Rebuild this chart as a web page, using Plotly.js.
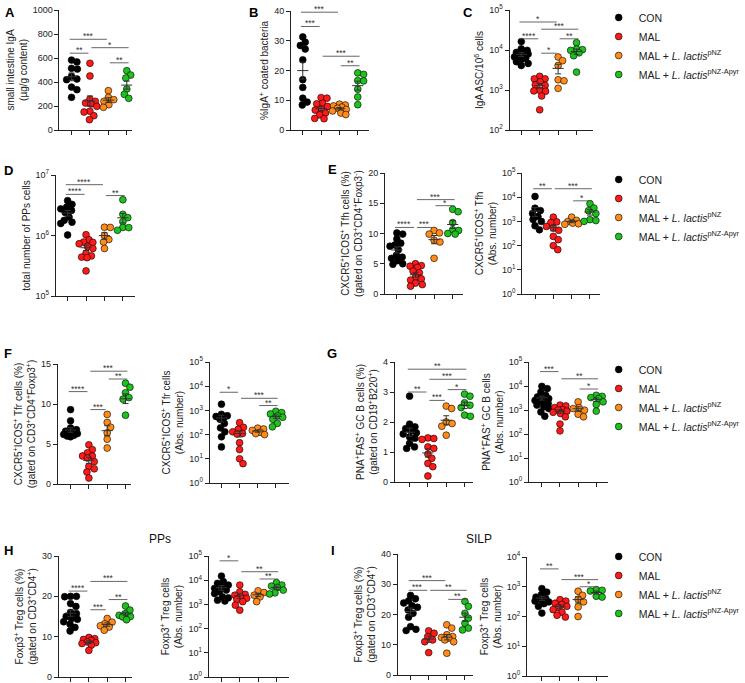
<!DOCTYPE html>
<html>
<head>
<meta charset="utf-8" />
<title>L. lactis pNZ-Apyr panels</title>
<script src="https://cdn.plot.ly/plotly-3.0.1.min.js"></script>
<style>
  html, body { margin: 0; padding: 0; background: #fff; }
  #plot { width: 745px; height: 683px; }
</style>
</head>
<body>
<div id="plot"></div>
<script>
// groups (order: CON, MAL, MAL + pNZ, MAL + pNZ-Apyr)
const groupNames = ['CON', 'MAL', 'MAL + <i>L. lactis</i><sup>pNZ</sup>', 'MAL + <i>L. lactis</i><sup>pNZ-Apyr</sup>'];
const groupColors = ['#000000', '#ff1a1a', '#ff8c1a', '#1ec21e'];

// values, one list per group
const siIgA = [
  [583, 567, 514, 508, 447, 425, 419, 358, 336, 272],
  [556, 450, 258, 239, 225, 217, 197, 156, 150, 119, 86],
  [328, 272, 253, 239, 211, 189],
  [494, 458, 433, 342, 331, 297, 264]
];
const igaCoated = [
  [31.3, 29.5, 28.4, 27.2, 23.6, 16.9, 14.3, 10.7, 9.4, 8.4],
  [10.9, 10.7, 9.0, 8.8, 7.9, 7.0, 6.7, 5.7, 5.1, 3.9, 3.8],
  [8.7, 8.4, 8.1, 7.7, 7.3, 6.9, 6.4, 5.7, 5.2],
  [19.2, 18.7, 16.6, 16.5, 13.7, 11.1, 8.5]
];
const igaAsc = [
  [16200, 10700, 9800, 8700, 8000, 7900, 7400, 6700, 6200, 5800, 5100, 4600, 4100],
  [2200, 1900, 1900, 1600, 1350, 1300, 980, 950, 930, 710, 320],
  [6700, 5400, 4100, 1800, 1700, 1100],
  [15200, 10600, 10200, 9800, 8500, 7200, 2800]
];
const ppCells = [
  [3.77e6, 3.27e6, 2.95e6, 2.76e6, 2.6e6, 2.4e6, 2.02e6, 1.78e6, 1.66e6, 1.58e6, 1.02e6],
  [1.03e6, 8.5e5, 7.8e5, 7.7e5, 7.3e5, 6.6e5, 6.1e5, 5.1e5, 4.6e5, 4.4e5, 4.3e5, 2.6e5],
  [1.37e6, 1.36e6, 1.0e6, 8.6e5, 7.8e5, 6.1e5],
  [3.9e6, 2.24e6, 1.97e6, 1.7e6, 1.36e6, 1.35e6, 1.22e6]
];
const tfhPct = [
  [10.1, 9.9, 9.1, 8.4, 8.1, 7.9, 7.3, 6.4, 6.1, 5.9, 5.5, 5.0, 4.9],
  [5.0, 4.7, 4.6, 4.4, 3.8, 3.5, 2.8, 2.5, 2.3, 1.8, 1.55, 1.3],
  [10.5, 10.1, 9.9, 8.9, 8.6, 5.9],
  [14.0, 13.6, 11.8, 10.6, 10.5, 10.0, 9.9]
];
const tfhAbs = [
  [10700, 3500, 2800, 2100, 1600, 1200, 1000, 660, 450],
  [1500, 950, 900, 620, 530, 430, 240, 175, 100, 68],
  [1500, 1100, 980, 850, 800, 760],
  [5400, 3550, 2750, 2100, 1180, 1080, 1000]
];
const tfrPct = [
  [9.3, 7.9, 7.0, 6.8, 6.6, 6.5, 6.4, 6.3, 6.2, 6.1, 6.0, 5.9],
  [4.9, 4.3, 3.9, 3.5, 3.5, 3.25, 2.8, 2.2, 1.9, 1.5, 0.75],
  [8.7, 7.7, 7.1, 6.4, 5.6, 4.5],
  [12.6, 12.1, 11.4, 10.8, 10.6, 8.6, 8.5]
];
const tfrAbs = [
  [1800, 690, 600, 560, 520, 430, 290, 190, 130, 81, 31],
  [310, 200, 165, 130, 112, 105, 46, 24, 10, 6.3],
  [185, 170, 150, 125, 110, 100],
  [920, 810, 710, 590, 520, 430, 290, 210]
];
const gcbPct = [
  [2.86, 1.93, 1.84, 1.78, 1.71, 1.64, 1.6, 1.5, 1.46, 1.29, 1.17, 1.12],
  [1.47, 1.45, 1.42, 1.17, 1.12, 0.93, 0.79, 0.62, 0.51, 0.2],
  [2.53, 2.45, 2.0, 1.95, 1.86, 1.56],
  [2.93, 2.86, 2.64, 2.56, 2.48, 2.23, 2.19]
];
const gcbAbs = [
  [9700, 7800, 5600, 4100, 3500, 3200, 3000, 2800, 2500, 2500, 2200, 1850, 1600, 1350, 1150, 830, 550],
  [1600, 1480, 1260, 1050, 1000, 890, 800, 710, 520, 260, 135],
  [2180, 1260, 1150, 980, 670, 520],
  [4100, 3700, 3300, 3000, 2200, 1700, 900]
];
const tregPpPct = [
  [20.0, 20.0, 19.9, 18.2, 17.5, 16.0, 15.7, 15.0, 14.5, 14.3, 13.7, 13.1, 12.3, 11.4],
  [9.8, 9.5, 9.3, 9.1, 8.7, 8.5, 8.3, 7.9, 6.6],
  [14.5, 13.6, 13.2, 12.7, 12.4, 11.6],
  [17.6, 16.6, 15.7, 15.3, 15.0, 14.9, 14.2]
];
const tregPpAbs = [
  [14800, 8700, 7400, 6300, 5400, 4600, 3900, 3300, 2800, 2050, 1870, 1500, 1380],
  [6300, 3300, 2600, 2400, 2050, 1780, 1600, 1300, 930, 580],
  [3650, 3100, 2400, 2050, 1300],
  [7900, 6300, 5700, 5000, 3900, 3000, 2700]
];
const tregLpPct = [
  [26.3, 25.2, 24.5, 23.8, 22.9, 22.4, 21.5, 20.4, 19.1, 16.0, 15.1, 14.7],
  [14.6, 13.8, 12.7, 11.6, 11.0, 7.4],
  [16.6, 15.5, 13.3, 12.7, 12.4, 12.2, 11.6, 11.0, 7.2],
  [24.3, 22.7, 20.4, 18.8, 17.1, 15.5, 14.9]
];
const tregLpAbs = [
  [870, 660, 540, 450, 400, 370, 330, 310, 270, 220, 130],
  [370, 330, 280, 255, 220, 200, 170, 140, 110, 96],
  [705, 515, 380, 310, 210, 100],
  [800, 760, 720, 480, 450]
];

// significance brackets: [from group, to group, height (fraction of axis), label]
const sigA = [[0, 2, 0.756, '***'], [0, 1, 0.64, '**'], [1, 3, 0.686, '*'], [2, 3, 0.56, '**']];
const sigB = [[0, 2, 0.99, '***'], [0, 1, 0.87, '***'], [1, 3, 0.62, '***'], [2, 3, 0.54, '**']];
const sigC = [[0, 2, 0.90, '*'], [0, 1, 0.76, '****'], [1, 3, 0.84, '***'], [1, 2, 0.64, '*'], [2, 3, 0.76, '**']];
const sigD = [[0, 2, 0.92, '****'], [0, 1, 0.84, '****'], [2, 3, 0.83, '**']];
const sigE1 = [[1, 3, 0.78, '***'], [2, 3, 0.73, '*'], [0, 1, 0.55, '****'], [1, 2, 0.55, '***']];
const sigE2 = [[0, 1, 0.87, '**'], [1, 3, 0.87, '***'], [2, 3, 0.77, '*']];
const sigF1 = [[1, 3, 0.94, '***'], [2, 3, 0.875, '**'], [0, 1, 0.77, '****'], [1, 2, 0.62, '***']];
const sigF2 = [[0, 1, 0.75, '*'], [1, 3, 0.70, '***'], [2, 3, 0.64, '**']];
const sigG1 = [[0, 3, 0.94, '**'], [1, 3, 0.856, '***'], [2, 3, 0.77, '*'], [0, 1, 0.75, '**'], [1, 2, 0.68, '***']];
const sigG2 = [[0, 1, 0.92, '***'], [1, 3, 0.86, '**'], [2, 3, 0.775, '*']];
const sigH1 = [[0, 1, 0.71, '****'], [1, 3, 0.79, '***'], [1, 2, 0.556, '***'], [2, 3, 0.64, '**']];
const sigH2 = [[0, 1, 0.96, '*'], [1, 3, 0.87, '**'], [2, 3, 0.81, '**']];
const sigI1 = [[0, 2, 0.78, '***'], [0, 1, 0.70, '***'], [1, 3, 0.70, '**'], [2, 3, 0.625, '**']];
const sigI2 = [[0, 1, 0.90, '**'], [1, 3, 0.81, '***'], [2, 3, 0.75, '*']];

const W = 745, H = 683;
const fx = px => px / W;
const fy = px => 1 - px / H;

// box = [left, right, top, bottom] in px; c0 = px of first group; sp = px between groups
const panels = [
  {vals: siIgA, box: [60.7, 135, 10, 130], c0: 73, sp: 18.8, lin: [0, 1000, 200], sig: sigA,
   title: 'small intestine IgA<br>(µg/g content)'},
  {vals: igaCoated, box: [297, 377, 11, 130], c0: 309, sp: 18.7, lin: [0, 40, 10], sig: sigB,
   title: '%IgA<sup>+</sup> coated bacteria'},
  {vals: igaAsc, box: [520, 605, 10, 130], c0: 532, sp: 18.8, log: [2, 5], sig: sigC, legend: 'legend',
   title: 'IgA ASC/10<sup>6</sup> cells'},
  {vals: ppCells, box: [57, 138, 175, 296], c0: 69, sp: 18.8, log: [5, 7], sig: sigD,
   title: 'total number of PPs cells'},
  {vals: tfhPct, box: [393, 473, 173, 294], c0: 405, sp: 19, lin: [0, 20, 5], sig: sigE1,
   title: 'CXCR5<sup>+</sup>ICOS<sup>+</sup> Tfh cells (%)<br>(gated on CD3<sup>+</sup>CD4<sup>+</sup>Foxp3<sup>-</sup>)'},
  {vals: tfhAbs, box: [533, 612, 173, 294], c0: 546, sp: 18.7, log: [0, 5], sig: sigE2, legend: 'legend2',
   title: 'CXCR5<sup>+</sup>ICOS<sup>+</sup> Tfh<br>(Abs. number)'},
  {vals: tfrPct, box: [59, 134, 364, 484], c0: 72, sp: 18.7, lin: [0, 15, 5], sig: sigF1,
   title: 'CXCR5<sup>+</sup>ICOS<sup>+</sup> Tfr cells (%)<br>(gated on CD3<sup>+</sup>CD4<sup>+</sup>Foxp3<sup>+</sup>)'},
  {vals: tfrAbs, box: [214, 295, 362, 483], c0: 226, sp: 18.5, log: [0, 5], sig: sigF2,
   title: 'CXCR5<sup>+</sup>ICOS<sup>+</sup> Tfr cells<br>(Abs. number)'},
  {vals: gcbPct, box: [403, 483, 362, 482], c0: 418, sp: 18.7, lin: [0, 4, 1], sig: sigG1,
   title: 'PNA<sup>+</sup>FAS<sup>+</sup> GC B cells (%)<br>(gated on CD19<sup>+</sup>B220<sup>+</sup>)'},
  {vals: gcbAbs, box: [540, 620, 362, 482], c0: 553, sp: 18.5, log: [0, 5], sig: sigG2, legend: 'legend3',
   title: 'PNA<sup>+</sup>FAS<sup>+</sup> GC B cells<br>(Abs. number)'},
  {vals: tregPpPct, box: [60, 135, 556, 677], c0: 72, sp: 18.7, lin: [0, 30, 10], sig: sigH1,
   title: 'Foxp3<sup>+</sup> Treg cells (%)<br>(gated on CD3<sup>+</sup>CD4<sup>+</sup>)'},
  {vals: tregPpAbs, box: [213, 295, 556, 677], c0: 226, sp: 18.7, log: [0, 5], sig: sigH2,
   title: 'Foxp3<sup>+</sup> Treg cells<br>(Abs. number)'},
  {vals: tregLpPct, box: [406, 483, 554, 675], c0: 419, sp: 18.5, lin: [0, 40, 10], sig: sigI1,
   title: 'Foxp3<sup>+</sup> Treg cells (%)<br>(gated on CD3<sup>+</sup>CD4<sup>+</sup>)'},
  {vals: tregLpAbs, box: [538, 620, 557, 676], c0: 553, sp: 18.5, log: [0, 4], sig: sigI2, legend: 'legend4',
   title: 'Foxp3<sup>+</sup> Treg cells<br>(Abs. number)'}
];

// spread points sideways so they do not sit on top of each other (simple beeswarm, in px)
function swarm(vals, toPx, diam, maxOff) {
  const idx = vals.map((v, i) => i).sort((a, b) => toPx(vals[b]) - toPx(vals[a]));
  const placed = [];
  const off = new Array(vals.length).fill(0);
  idx.forEach(i => {
    const y = toPx(vals[i]);
    let best = 0, bestGap = -1;
    for (let k = 0; k <= maxOff * 4; k++) {
      const c = k === 0 ? 0 : (k % 2 ? 1 : -1) * Math.ceil(k / 2) * 0.5;
      const gap = placed.reduce((m, p) => Math.min(m, Math.hypot(p.x - c, p.y - y)), Infinity);
      if (gap >= diam) { best = c; bestGap = gap; break; }
      if (gap > bestGap) { best = c; bestGap = gap; }
    }
    off[i] = best;
    placed.push({x: best, y: y});
  });
  return off;
}

const axisFont = {family: 'Liberation Sans, Arial, sans-serif', size: 9, color: '#222'};
const traces = [];
const layout = {
  width: W, height: H,
  margin: {l: 0, r: 0, t: 0, b: 0},
  paper_bgcolor: '#fff', plot_bgcolor: '#fff',
  font: {family: 'Liberation Sans, Arial, sans-serif', size: 9, color: '#222'},
  showlegend: true,
  hovermode: false,
  shapes: [], annotations: []
};

panels.forEach((p, n) => {
  const k = n + 1;
  const xa = 'x' + (k === 1 ? '' : k), ya = 'y' + (k === 1 ? '' : k);
  const xk = 'xaxis' + (k === 1 ? '' : k), yk = 'yaxis' + (k === 1 ? '' : k);
  const [L, R, T, B] = p.box;
  const hPx = B - T;
  const toPx = p.log
    ? v => (Math.log10(v) - p.log[0]) / (p.log[1] - p.log[0]) * hPx
    : v => (v - p.lin[0]) / (p.lin[1] - p.lin[0]) * hPx;

  layout[xk] = {
    domain: [fx(L), fx(R)], anchor: ya,
    range: [(L - p.c0) / p.sp, (R - p.c0) / p.sp],
    tickvals: [0, 1, 2, 3], showticklabels: false,
    ticks: 'outside', ticklen: 4, tickwidth: 1, tickcolor: '#222',
    showline: true, linecolor: '#222', linewidth: 1,
    showgrid: false, zeroline: false, fixedrange: true
  };
  const yax = {
    domain: [fy(B), fy(T)], anchor: xa,
    ticks: 'outside', ticklen: 4, tickwidth: 1, tickcolor: '#222',
    showline: true, linecolor: '#222', linewidth: 1,
    showgrid: false, zeroline: false, fixedrange: true,
    tickfont: axisFont,
    title: {text: p.title, font: {size: 10, color: '#222'}, standoff: 3}
  };
  if (p.log) {
    const tv = [], tt = [];
    for (let e = p.log[0]; e <= p.log[1]; e++) { tv.push(Math.pow(10, e)); tt.push('10<sup>' + e + '</sup>'); }
    Object.assign(yax, {type: 'log', range: p.log, tickvals: tv, ticktext: tt});
  } else {
    const tv = [];
    for (let v = p.lin[0]; v <= p.lin[1] + 1e-9; v += p.lin[2]) tv.push(v);
    Object.assign(yax, {type: 'linear', range: [p.lin[0], p.lin[1]], tickvals: tv});
  }
  layout[yk] = yax;

  // points
  p.vals.forEach((vals, g) => {
    const off = swarm(vals, toPx, 5.8, 7);
    traces.push({
      type: 'scatter', mode: 'markers', xaxis: xa, yaxis: ya,
      x: vals.map((v, i) => g + off[i] / p.sp), y: vals,
      name: groupNames[g],
      showlegend: !!p.legend, legend: p.legend || 'legend',
      marker: {size: 6.8, color: groupColors[g], line: {color: '#000', width: 0.6}},
      cliponaxis: false
    });
  });
  // mean +/- SEM
  p.vals.forEach((vals, g) => {
    const m = vals.reduce((a, b) => a + b, 0) / vals.length;
    const sd = Math.sqrt(vals.reduce((a, b) => a + (b - m) ** 2, 0) / (vals.length - 1));
    traces.push({
      type: 'scatter', mode: 'markers', xaxis: xa, yaxis: ya,
      x: [g], y: [m], showlegend: false,
      marker: {symbol: 'line-ew', size: 8, color: '#333', line: {color: '#333', width: 1}},
      error_y: {type: 'data', array: [sd / Math.sqrt(vals.length)], width: 3, thickness: 1, color: '#333'}
    });
  });
  // significance brackets
  p.sig.forEach(([i, j, lev, lab]) => {
    const x0 = i === 0 ? i - 0.1 : i + 0.08;
    const x1 = j === 3 ? j + 0.1 : j - 0.08;
    layout.shapes.push({type: 'line', xref: xa, yref: ya + ' domain', x0: x0, x1: x1, y0: lev, y1: lev,
      line: {color: '#555', width: 0.9}});
    layout.annotations.push({xref: xa, yref: ya + ' domain', x: (x0 + x1) / 2, y: lev, text: lab,
      showarrow: false, yanchor: 'middle', yshift: 3, font: {size: 8.5, color: '#333'}});
  });
});

// legends
const legendTops = {legend: 3, legend2: 165, legend3: 355, legend4: 542};
Object.keys(legendTops).forEach(id => {
  layout[id] = {x: fx(611), y: fy(legendTops[id]), xanchor: 'left', yanchor: 'top',
    bgcolor: 'rgba(0,0,0,0)', font: {size: 10.5, color: '#222'}, itemclick: false, itemdoubleclick: false};
});

// panel letters and section titles
const letters = [['A', 3, 3], ['B', 252, 3], ['C', 470, 3], ['D', 2, 161], ['E', 333, 160],
  ['F', 2, 344], ['G', 332, 344], ['H', 2, 541], ['I', 336, 541]];
letters.forEach(([t, x, y]) => layout.annotations.push({xref: 'paper', yref: 'paper', x: fx(x), y: fy(y),
  xanchor: 'left', yanchor: 'top', text: '<b>' + t + '</b>', showarrow: false, font: {size: 13, color: '#000'}}));
[['PPs', 163, 539], ['SILP', 489, 539]].forEach(([t, x, y]) => layout.annotations.push({xref: 'paper', yref: 'paper',
  x: fx(x), y: fy(y), xanchor: 'center', yanchor: 'middle', text: t, showarrow: false, font: {size: 12, color: '#111'}}));

Plotly.newPlot('plot', traces, layout, {displayModeBar: false, responsive: false});
</script>
</body>
</html>
